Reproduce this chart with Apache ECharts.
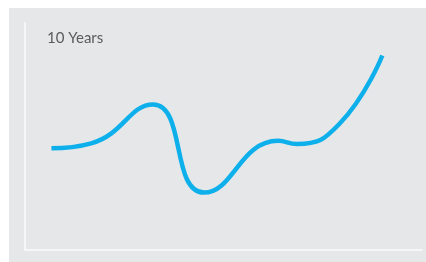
<!DOCTYPE html>
<html>
<head>
<meta charset="utf-8">
<script src="https://cdn.jsdelivr.net/npm/echarts@6/dist/echarts.min.js"></script>
<style>
html,body{margin:0;padding:0;background:#fff;}
#chart{width:426px;height:262px;}
</style>
</head>
<body>
<div id="chart"></div>
<script>
// Data (years vs index value)
const titleText = "10 Years";
const years = [0, 1.2, 3.07, 4.61, 6.85, 7.42, 8.7, 10.0];
const values = [44.8, 47.0, 64.1, 25.3, 48.1, 46.7, 55.5, 85.7];

const chart = echarts.init(document.getElementById('chart'), null, {renderer: 'canvas'});
const axisLine = {show: true, onZero: false, lineStyle: {color: '#f5f6f7', width: 2}};
chart.setOption({
  backgroundColor: '#ffffff',
  animation: false,
  graphic: [{
    type: 'rect', z: -10, silent: true,
    shape: {x: 9, y: 8, width: 417, height: 254},
    style: {fill: '#e6e7e9'}
  }],
  title: {
    text: titleText, left: 47, top: 31, padding: 0,
    textStyle: {fontFamily: 'Lato', fontSize: 15, fontWeight: 'normal', color: '#5b5b5b'}
  },
  grid: {left: 25, right: 4, top: 23, bottom: 12, containLabel: false},
  xAxis: {
    type: 'value', min: -0.8, max: 11.2,
    axisLine: axisLine, axisTick: {show: false}, axisLabel: {show: false}, splitLine: {show: false}
  },
  yAxis: {
    type: 'value', min: 0, max: 100,
    axisLine: axisLine, axisTick: {show: false}, axisLabel: {show: false}, splitLine: {show: false}
  },
  series: [{
    type: 'line',
    data: years.map((y, i) => [y, values[i]]),
    smooth: 0.5,
    showSymbol: false,
    symbol: 'none',
    lineStyle: {color: '#0eb0ec', width: 4.5, cap: 'butt'}
  }]
});
</script>
</body>
</html>
